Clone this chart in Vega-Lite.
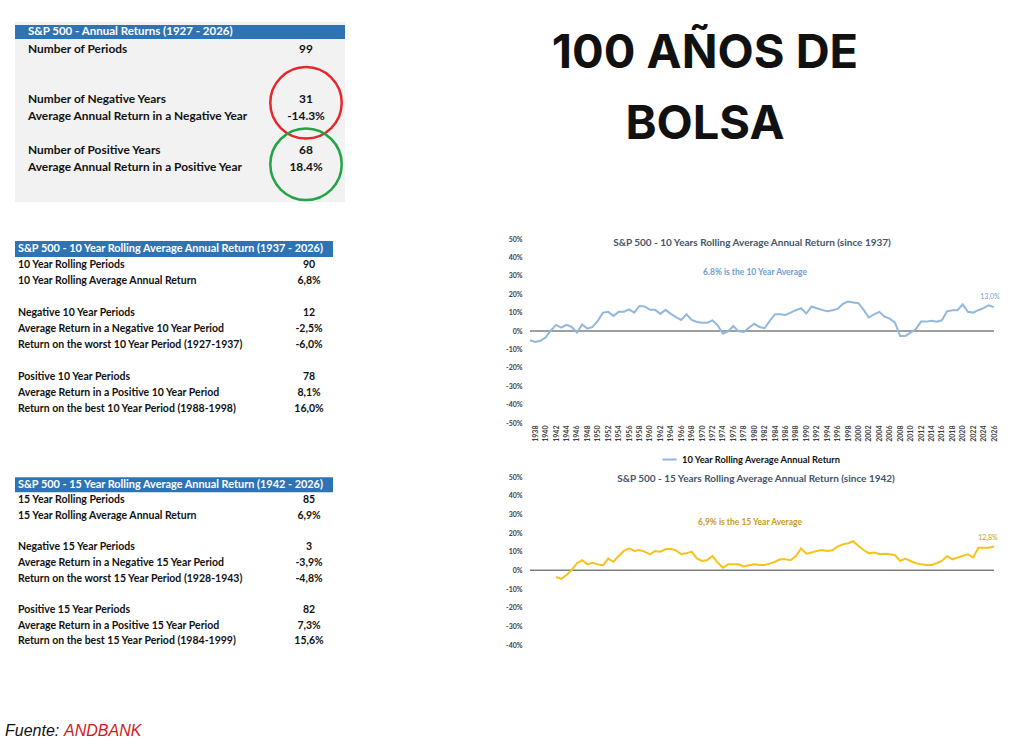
{
  "$schema": "https://vega.github.io/schema/vega-lite/v6.json",
  "background": "white",
  "padding": {"left": 5, "top": 22, "right": 5, "bottom": 5},
  "config": {
    "view": {"stroke": null},
    "font": "Lato",
    "locale": {"number": {"decimal": ",", "thousands": ".", "grouping": [3], "currency": ["", " €"], "minus": "-"}},
    "axis": {"grid": false, "domain": false, "ticks": false, "labelFont": "Lato", "labelFontWeight": "bold", "labelColor": "#404040", "labelOverlap": false, "labelFlush": false, "tickCount": 100}
  },
  "resolve": {"scale": {"x": "independent", "y": "independent", "color": "independent"}, "legend": {"color": "independent"}},
  "datasets": {
    "t1": [
      {"row": 0, "kind": "header", "label": "S&P 500 - Annual Returns (1927 - 2026)", "value": ""},
      {"row": 1, "kind": "body", "label": "Number of Periods", "value": "99"},
      {"row": 4, "kind": "body", "label": "Number of Negative Years", "value": "31", "grp": "neg"},
      {"row": 5, "kind": "body", "label": "Average Annual Return in a Negative Year", "value": "-14.3%", "grp": "neg"},
      {"row": 7, "kind": "body", "label": "Number of Positive Years", "value": "68", "grp": "pos"},
      {"row": 8, "kind": "body", "label": "Average Annual Return in a Positive Year", "value": "18.4%", "grp": "pos"}
    ],
    "t2": [
      {"row": 0, "kind": "header", "label": "S&P 500 - 10 Year Rolling Average Annual Return (1937 - 2026)", "value": ""},
      {"row": 1, "kind": "body", "label": "10 Year Rolling Periods", "value": "90"},
      {"row": 2, "kind": "body", "label": "10 Year Rolling Average Annual Return", "value": "6,8%"},
      {"row": 4, "kind": "body", "label": "Negative 10 Year Periods", "value": "12"},
      {"row": 5, "kind": "body", "label": "Average Return in a Negative 10 Year Period", "value": "-2,5%"},
      {"row": 6, "kind": "body", "label": "Return on the worst 10 Year Period (1927-1937)", "value": "-6,0%"},
      {"row": 8, "kind": "body", "label": "Positive 10 Year Periods", "value": "78"},
      {"row": 9, "kind": "body", "label": "Average Return in a Positive 10 Year Period", "value": "8,1%"},
      {"row": 10, "kind": "body", "label": "Return on the best 10 Year Period (1988-1998)", "value": "16,0%"}
    ],
    "t3": [
      {"row": 0, "kind": "header", "label": "S&P 500 - 15 Year Rolling Average Annual Return (1942 - 2026)", "value": ""},
      {"row": 1, "kind": "body", "label": "15 Year Rolling Periods", "value": "85"},
      {"row": 2, "kind": "body", "label": "15 Year Rolling Average Annual Return", "value": "6,9%"},
      {"row": 4, "kind": "body", "label": "Negative 15 Year Periods", "value": "3"},
      {"row": 5, "kind": "body", "label": "Average Return in a Negative 15 Year Period", "value": "-3,9%"},
      {"row": 6, "kind": "body", "label": "Return on the worst 15 Year Period (1928-1943)", "value": "-4,8%"},
      {"row": 8, "kind": "body", "label": "Positive 15 Year Periods", "value": "82"},
      {"row": 9, "kind": "body", "label": "Average Return in a Positive 15 Year Period", "value": "7,3%"},
      {"row": 10, "kind": "body", "label": "Return on the best 15 Year Period (1984-1999)", "value": "15,6%"}
    ],
    "r10": [
      {"year": 1937, "ret": -0.050}, {"year": 1938, "ret": -0.060}, {"year": 1939, "ret": -0.053}, {"year": 1940, "ret": -0.035},
      {"year": 1941, "ret": 0.003}, {"year": 1942, "ret": 0.033}, {"year": 1943, "ret": 0.018}, {"year": 1944, "ret": 0.033},
      {"year": 1945, "ret": 0.022}, {"year": 1946, "ret": -0.009}, {"year": 1947, "ret": 0.036}, {"year": 1948, "ret": 0.013},
      {"year": 1949, "ret": 0.022}, {"year": 1950, "ret": 0.055}, {"year": 1951, "ret": 0.100}, {"year": 1952, "ret": 0.104},
      {"year": 1953, "ret": 0.082}, {"year": 1954, "ret": 0.104}, {"year": 1955, "ret": 0.104}, {"year": 1956, "ret": 0.118},
      {"year": 1957, "ret": 0.100}, {"year": 1958, "ret": 0.136}, {"year": 1959, "ret": 0.133}, {"year": 1960, "ret": 0.115},
      {"year": 1961, "ret": 0.115}, {"year": 1962, "ret": 0.093}, {"year": 1963, "ret": 0.115}, {"year": 1964, "ret": 0.093},
      {"year": 1965, "ret": 0.076}, {"year": 1966, "ret": 0.060}, {"year": 1967, "ret": 0.091}, {"year": 1968, "ret": 0.060},
      {"year": 1969, "ret": 0.049}, {"year": 1970, "ret": 0.045}, {"year": 1971, "ret": 0.045}, {"year": 1972, "ret": 0.058},
      {"year": 1973, "ret": 0.031}, {"year": 1974, "ret": -0.015}, {"year": 1975, "ret": -0.002}, {"year": 1976, "ret": 0.027},
      {"year": 1977, "ret": -0.002}, {"year": 1978, "ret": -0.005}, {"year": 1979, "ret": 0.018}, {"year": 1980, "ret": 0.040},
      {"year": 1981, "ret": 0.022}, {"year": 1982, "ret": 0.015}, {"year": 1983, "ret": 0.055}, {"year": 1984, "ret": 0.091},
      {"year": 1985, "ret": 0.091}, {"year": 1986, "ret": 0.087}, {"year": 1987, "ret": 0.100}, {"year": 1988, "ret": 0.113},
      {"year": 1989, "ret": 0.124}, {"year": 1990, "ret": 0.095}, {"year": 1991, "ret": 0.133}, {"year": 1992, "ret": 0.124},
      {"year": 1993, "ret": 0.115}, {"year": 1994, "ret": 0.107}, {"year": 1995, "ret": 0.113}, {"year": 1996, "ret": 0.120},
      {"year": 1997, "ret": 0.147}, {"year": 1998, "ret": 0.160}, {"year": 1999, "ret": 0.155}, {"year": 2000, "ret": 0.151},
      {"year": 2001, "ret": 0.115}, {"year": 2002, "ret": 0.073}, {"year": 2003, "ret": 0.091}, {"year": 2004, "ret": 0.104},
      {"year": 2005, "ret": 0.078}, {"year": 2006, "ret": 0.067}, {"year": 2007, "ret": 0.045}, {"year": 2008, "ret": -0.027},
      {"year": 2009, "ret": -0.027}, {"year": 2010, "ret": -0.009}, {"year": 2011, "ret": 0.009}, {"year": 2012, "ret": 0.051},
      {"year": 2013, "ret": 0.051}, {"year": 2014, "ret": 0.055}, {"year": 2015, "ret": 0.051}, {"year": 2016, "ret": 0.058},
      {"year": 2017, "ret": 0.107}, {"year": 2018, "ret": 0.113}, {"year": 2019, "ret": 0.113}, {"year": 2020, "ret": 0.145},
      {"year": 2021, "ret": 0.104}, {"year": 2022, "ret": 0.100}, {"year": 2023, "ret": 0.113}, {"year": 2024, "ret": 0.124},
      {"year": 2025, "ret": 0.140}, {"year": 2026, "ret": 0.130}
    ],
    "r15": [
      {"year": 1942, "ret": -0.036}, {"year": 1943, "ret": -0.046}, {"year": 1944, "ret": -0.025}, {"year": 1945, "ret": 0.002},
      {"year": 1946, "ret": 0.038}, {"year": 1947, "ret": 0.054}, {"year": 1948, "ret": 0.032}, {"year": 1949, "ret": 0.041},
      {"year": 1950, "ret": 0.032}, {"year": 1951, "ret": 0.027}, {"year": 1952, "ret": 0.063}, {"year": 1953, "ret": 0.046},
      {"year": 1954, "ret": 0.077}, {"year": 1955, "ret": 0.104}, {"year": 1956, "ret": 0.118}, {"year": 1957, "ret": 0.104},
      {"year": 1958, "ret": 0.109}, {"year": 1959, "ret": 0.100}, {"year": 1960, "ret": 0.086}, {"year": 1961, "ret": 0.104},
      {"year": 1962, "ret": 0.100}, {"year": 1963, "ret": 0.113}, {"year": 1964, "ret": 0.116}, {"year": 1965, "ret": 0.107},
      {"year": 1966, "ret": 0.086}, {"year": 1967, "ret": 0.091}, {"year": 1968, "ret": 0.100}, {"year": 1969, "ret": 0.064},
      {"year": 1970, "ret": 0.050}, {"year": 1971, "ret": 0.055}, {"year": 1972, "ret": 0.077}, {"year": 1973, "ret": 0.041},
      {"year": 1974, "ret": 0.014}, {"year": 1975, "ret": 0.032}, {"year": 1976, "ret": 0.032}, {"year": 1977, "ret": 0.032},
      {"year": 1978, "ret": 0.021}, {"year": 1979, "ret": 0.027}, {"year": 1980, "ret": 0.032}, {"year": 1981, "ret": 0.029},
      {"year": 1982, "ret": 0.029}, {"year": 1983, "ret": 0.036}, {"year": 1984, "ret": 0.046}, {"year": 1985, "ret": 0.059},
      {"year": 1986, "ret": 0.059}, {"year": 1987, "ret": 0.054}, {"year": 1988, "ret": 0.077}, {"year": 1989, "ret": 0.118},
      {"year": 1990, "ret": 0.089}, {"year": 1991, "ret": 0.095}, {"year": 1992, "ret": 0.104}, {"year": 1993, "ret": 0.109},
      {"year": 1994, "ret": 0.104}, {"year": 1995, "ret": 0.107}, {"year": 1996, "ret": 0.127}, {"year": 1997, "ret": 0.139},
      {"year": 1998, "ret": 0.145}, {"year": 1999, "ret": 0.156}, {"year": 2000, "ret": 0.130}, {"year": 2001, "ret": 0.109},
      {"year": 2002, "ret": 0.091}, {"year": 2003, "ret": 0.095}, {"year": 2004, "ret": 0.086}, {"year": 2005, "ret": 0.089},
      {"year": 2006, "ret": 0.086}, {"year": 2007, "ret": 0.082}, {"year": 2008, "ret": 0.050}, {"year": 2009, "ret": 0.063},
      {"year": 2010, "ret": 0.050}, {"year": 2011, "ret": 0.038}, {"year": 2012, "ret": 0.032}, {"year": 2013, "ret": 0.029},
      {"year": 2014, "ret": 0.029}, {"year": 2015, "ret": 0.038}, {"year": 2016, "ret": 0.050}, {"year": 2017, "ret": 0.077},
      {"year": 2018, "ret": 0.059}, {"year": 2019, "ret": 0.068}, {"year": 2020, "ret": 0.077}, {"year": 2021, "ret": 0.086},
      {"year": 2022, "ret": 0.068}, {"year": 2023, "ret": 0.121}, {"year": 2024, "ret": 0.121}, {"year": 2025, "ret": 0.121},
      {"year": 2026, "ret": 0.128}
    ]
  },
  "hconcat": [
    {
      "spacing": 36,
      "resolve": {"scale": {"x": "independent", "y": "independent", "color": "independent"}, "legend": {"color": "independent"}},
      "vconcat": [
        {
          "width": 330, "height": 180,
          "view": {"fill": "#f2f2f2", "stroke": null},
          "data": {"name": "t1"},
          "encoding": {"y": {"field": "row", "type": "quantitative", "scale": {"domain": [-0.6, 10.1], "reverse": true, "nice": false, "zero": false}, "axis": null}},
          "layer": [
            {"transform": [{"filter": "datum.kind == 'header'"}], "mark": {"type": "rule", "strokeWidth": 14, "color": "#2e74b5"}, "encoding": {}},
            {"mark": {"type": "text", "align": "left", "baseline": "middle", "fontWeight": "bold"},
             "encoding": {
               "x": {"datum": "label", "type": "nominal", "scale": {"type": "point", "domain": ["label", "value"], "range": [13, 291], "padding": 0}, "axis": null},
               "text": {"field": "label"},
               "size": {"condition": {"test": "datum.kind == 'header'", "value": 11.5}, "value": 11.9},
               "color": {"condition": {"test": "datum.kind == 'header'", "value": "white"}, "value": "#111111"}}},
            {"transform": [{"filter": "datum.kind == 'body'"}],
             "mark": {"type": "text", "align": "center", "baseline": "middle", "fontWeight": "bold", "fontSize": 11.9, "color": "#111111"},
             "encoding": {"x": {"datum": "value", "type": "nominal"}, "text": {"field": "value"}}},
            {"transform": [{"filter": "datum.grp == 'neg'"}],
             "mark": {"type": "point", "shape": "circle", "filled": false, "size": 5100, "strokeWidth": 2.5, "opacity": 1, "yOffset": -5, "color": "#e8262b"},
             "encoding": {
               "x": {"datum": "value", "type": "nominal"},
               "y": {"aggregate": "mean", "field": "row", "type": "quantitative"}}},
            {"transform": [{"filter": "datum.grp == 'pos'"}],
             "mark": {"type": "point", "shape": "circle", "filled": false, "size": 5100, "strokeWidth": 2.5, "opacity": 1, "yOffset": 6, "color": "#23a447"},
             "encoding": {
               "x": {"datum": "value", "type": "nominal"},
               "y": {"aggregate": "mean", "field": "row", "type": "quantitative"}}}
          ]
        },
        {
          "spacing": 60,
          "resolve": {"scale": {"x": "independent", "y": "independent", "color": "independent"}, "legend": {"color": "independent"}},
          "vconcat": [
            {
              "width": 318, "height": 176,
              "data": {"name": "t2"},
              "encoding": {"y": {"field": "row", "type": "quantitative", "scale": {"domain": [-0.5, 10.5], "reverse": true, "nice": false, "zero": false}, "axis": null}},
              "layer": [
                {"transform": [{"filter": "datum.kind == 'header'"}], "mark": {"type": "rule", "strokeWidth": 16, "color": "#2e74b5"}, "encoding": {}},
                {"mark": {"type": "text", "align": "left", "baseline": "middle", "fontWeight": "bold"},
                 "encoding": {
                   "x": {"datum": "label", "type": "nominal", "scale": {"type": "point", "domain": ["label", "value"], "range": [3, 294], "padding": 0}, "axis": null},
                   "text": {"field": "label"},
                   "size": {"condition": {"test": "datum.kind == 'header'", "value": 10.9}, "value": 10.5},
                   "color": {"condition": {"test": "datum.kind == 'header'", "value": "white"}, "value": "#111111"}}},
                {"transform": [{"filter": "datum.kind == 'body'"}],
                 "mark": {"type": "text", "align": "center", "baseline": "middle", "fontWeight": "bold", "fontSize": 10.5, "color": "#111111"},
                 "encoding": {"x": {"datum": "value", "type": "nominal"}, "text": {"field": "value"}}}
              ]
            },
            {
              "spacing": 72,
              "resolve": {"scale": {"x": "independent", "y": "independent", "color": "independent"}, "legend": {"color": "independent"}},
              "vconcat": [
                {
                  "width": 318, "height": 172,
                  "data": {"name": "t3"},
                  "encoding": {"y": {"field": "row", "type": "quantitative", "scale": {"domain": [-0.5, 10.5], "reverse": true, "nice": false, "zero": false}, "axis": null}},
                  "layer": [
                    {"transform": [{"filter": "datum.kind == 'header'"}], "mark": {"type": "rule", "strokeWidth": 15, "color": "#2e74b5"}, "encoding": {}},
                    {"mark": {"type": "text", "align": "left", "baseline": "middle", "fontWeight": "bold"},
                     "encoding": {
                       "x": {"datum": "label", "type": "nominal", "scale": {"type": "point", "domain": ["label", "value"], "range": [3, 294], "padding": 0}, "axis": null},
                       "text": {"field": "label"},
                       "size": {"condition": {"test": "datum.kind == 'header'", "value": 10.9}, "value": 10.5},
                       "color": {"condition": {"test": "datum.kind == 'header'", "value": "white"}, "value": "#111111"}}},
                    {"transform": [{"filter": "datum.kind == 'body'"}],
                     "mark": {"type": "text", "align": "center", "baseline": "middle", "fontWeight": "bold", "fontSize": 10.5, "color": "#111111"},
                     "encoding": {"x": {"datum": "value", "type": "nominal"}, "text": {"field": "value"}}}
                  ]
                },
                {
                  "width": 140, "height": 20,
                  "data": {"values": [{"word": "Fuente:", "kind": "src"}, {"word": "ANDBANK", "kind": "name"}]},
                  "mark": {"type": "text", "align": "left", "baseline": "middle", "font": "Liberation Sans", "fontStyle": "italic", "fontSize": 16},
                  "encoding": {
                    "x": {"field": "word", "type": "nominal", "scale": {"type": "point", "domain": ["Fuente:", "ANDBANK"], "range": [-10, 49], "padding": 0}, "axis": null},
                    "text": {"field": "word"},
                    "color": {"field": "kind", "type": "nominal", "scale": {"domain": ["src", "name"], "range": ["#111111", "#d7191c"]}, "legend": null}
                  }
                }
              ]
            }
          ]
        }
      ]
    },
    {
      "spacing": 78,
      "resolve": {"scale": {"x": "independent", "y": "independent", "color": "independent"}, "legend": {"color": "independent"}},
      "vconcat": [
        {
          "width": 350, "height": 135,
          "data": {"values": [{"t": "100 AÑOS DE", "line": 1}, {"t": "BOLSA", "line": 2}]},
          "mark": {"type": "text", "font": "Inter", "fontWeight": "bold", "fontSize": 47, "baseline": "middle", "color": "#111111"},
          "encoding": {
            "y": {"field": "line", "type": "ordinal", "scale": {"type": "point", "padding": 0.45}, "axis": null},
            "text": {"field": "t"}
          }
        },
        {
          "spacing": 8,
          "resolve": {"scale": {"x": "independent", "y": "independent", "color": "independent"}, "legend": {"color": "independent"}},
          "vconcat": [
            {
              "width": 464, "height": 184,
              "layer": [
                {"data": {"values": [{}]}, "mark": {"type": "rule", "color": "#7f7f7f", "strokeWidth": 1.5}, "encoding": {"y": {"datum": 0}}},
                {"data": {"name": "r10"}, "mark": {"type": "line", "strokeWidth": 2},
                 "encoding": {
                   "x": {"field": "year", "type": "quantitative", "scale": {"domain": [1937, 2026], "nice": false, "zero": false},
                         "axis": {"values": [1938,1940,1942,1944,1946,1948,1950,1952,1954,1956,1958,1960,1962,1964,1966,1968,1970,1972,1974,1976,1978,1980,1982,1984,1986,1988,1990,1992,1994,1996,1998,2000,2002,2004,2006,2008,2010,2012,2014,2016,2018,2020,2022,2024,2026],
                                  "tickCount": 100, "format": "d", "labelAngle": -90, "labelFontSize": 7, "labelPadding": 2, "labelOverlap": false, "labelFlush": false, "title": null}},
                   "y": {"field": "ret", "type": "quantitative", "scale": {"domain": [-0.5, 0.5], "nice": false},
                         "axis": {"values": [-0.5,-0.4,-0.3,-0.2,-0.1,0,0.1,0.2,0.3,0.4,0.5], "tickCount": 100, "format": ".0%", "labelFontSize": 7, "labelPadding": 8, "labelOverlap": false, "title": null}},
                   "color": {"datum": "10 Year Rolling Average Annual Return", "type": "nominal", "scale": {"range": ["#92b8df"]},
                             "legend": {"orient": "none", "legendX": 131, "legendY": 212, "direction": "horizontal", "title": null, "symbolType": "stroke", "symbolStrokeWidth": 2, "symbolSize": 200, "labelFontSize": 9.3, "labelFontWeight": "bold", "labelColor": "#111111", "padding": 0}}
                 }},
                {"data": {"name": "r10"}, "transform": [{"filter": "datum.year == 2026"}],
                 "mark": {"type": "text", "dy": -10, "dx": -4, "fontSize": 7, "color": "#6a9fd8"},
                 "encoding": {"x": {"field": "year", "type": "quantitative"}, "y": {"field": "ret", "type": "quantitative"}, "text": {"field": "ret", "type": "quantitative", "format": ".1%"}}},
                {"data": {"values": [{"label": "S&P 500 - 10 Years Rolling Average Annual Return (since 1937)"}]},
                 "mark": {"type": "text", "fontSize": 10, "fontWeight": "bold", "color": "#44546a", "dx": -10},
                 "encoding": {"y": {"datum": 0.478}, "text": {"field": "label"}}},
                {"data": {"values": [{"label": "6.8% is the 10 Year Average"}]},
                 "mark": {"type": "text", "fontSize": 8.5, "fontWeight": "bold", "color": "#6a9fd8", "dx": -7},
                 "encoding": {"y": {"datum": 0.32}, "text": {"field": "label"}}}
              ]
            },
            {
              "width": 464, "height": 168,
              "layer": [
                {"data": {"values": [{}]}, "mark": {"type": "rule", "color": "#7f7f7f", "strokeWidth": 1.5}, "encoding": {"y": {"datum": 0}}},
                {"data": {"name": "r15"}, "mark": {"type": "line", "strokeWidth": 2, "color": "#f7c31a"},
                 "encoding": {
                   "x": {"field": "year", "type": "quantitative", "scale": {"domain": [1937, 2026], "nice": false, "zero": false}, "axis": null},
                   "y": {"field": "ret", "type": "quantitative", "scale": {"domain": [-0.4, 0.5], "nice": false},
                         "axis": {"values": [-0.4,-0.3,-0.2,-0.1,0,0.1,0.2,0.3,0.4,0.5], "tickCount": 100, "format": ".0%", "labelFontSize": 7, "labelPadding": 8, "labelOverlap": false, "title": null}}
                 }},
                {"data": {"name": "r15"}, "transform": [{"filter": "datum.year == 2026"}],
                 "mark": {"type": "text", "dy": -8, "dx": -6, "fontSize": 7, "color": "#c99a1e"},
                 "encoding": {"x": {"field": "year", "type": "quantitative"}, "y": {"field": "ret", "type": "quantitative"}, "text": {"field": "ret", "type": "quantitative", "format": ".1%"}}},
                {"data": {"values": [{"label": "S&P 500 - 15 Years Rolling Average Annual Return (since 1942)"}]},
                 "mark": {"type": "text", "fontSize": 10, "fontWeight": "bold", "color": "#44546a", "dx": -6},
                 "encoding": {"y": {"datum": 0.489}, "text": {"field": "label"}}},
                {"data": {"values": [{"label": "6,9% is the 15 Year Average"}]},
                 "mark": {"type": "text", "fontSize": 8.5, "fontWeight": "bold", "color": "#c99a1e", "dx": -12},
                 "encoding": {"y": {"datum": 0.259}, "text": {"field": "label"}}}
              ]
            }
          ]
        }
      ]
    }
  ],
  "spacing": 153
}
